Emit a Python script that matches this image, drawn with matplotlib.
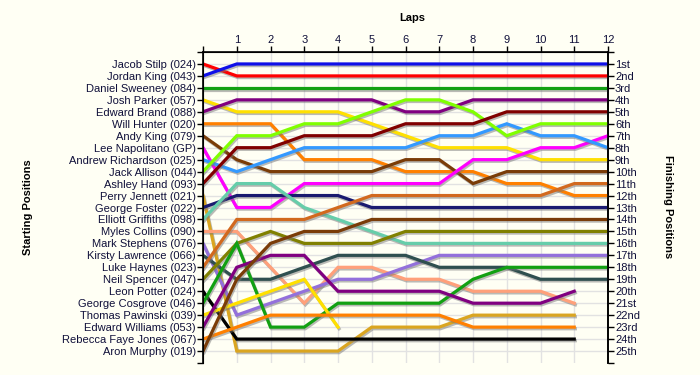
import numpy as np
import matplotlib.pyplot as plt
import matplotlib.patheffects as pe

plt.rcParams['font.family'] = ['Liberation Sans', 'DejaVu Sans']

drivers = ['Jacob Stilp (024)', 'Jordan King (043)', 'Daniel Sweeney (084)',
           'Josh Parker (057)', 'Edward Brand (088)', 'Will Hunter (020)',
           'Andy King (079)', 'Lee Napolitano (GP)', 'Andrew Richardson (025)',
           'Jack Allison (044)', 'Ashley Hand (093)', 'Perry Jennett (021)',
           'George Foster (022)', 'Elliott Griffiths (098)', 'Myles Collins (090)',
           'Mark Stephens (076)', 'Kirsty Lawrence (066)', 'Luke Haynes (023)',
           'Neil Spencer (047)', 'Leon Potter (024)', 'George Cosgrove (046)',
           'Thomas Pawinski (039)', 'Edward Williams (053)',
           'Rebecca Faye Jones (067)', 'Aron Murphy (019)']

colors = ['#ff0000', '#1010e8', '#12a012', '#ffe000', '#800080', '#ff8000',
          '#7a3c08', '#ff00ff', '#3399ff', '#80ff00', '#800000', '#daa520',
          '#1a1a70', '#66cdaa', '#ffa07a', '#9370db', '#2f4f4f', '#d2691e',
          '#808000', '#000000', '#12a012', '#ffe000', '#800080', '#ff8000',
          '#7a3c08']

# position at lap 0, 1, 2, ... (shorter lists = lapped / retired)
positions = [
    [1, 2, 2, 2, 2, 2, 2, 2, 2, 2, 2, 2, 2],
    [2, 1, 1, 1, 1, 1, 1, 1, 1, 1, 1, 1, 1],
    [3, 3, 3, 3, 3, 3, 3, 3, 3, 3, 3, 3, 3],
    [4, 5, 5, 5, 5, 6, 7, 8, 8, 8, 9, 9, 9],
    [5, 4, 4, 4, 4, 4, 5, 5, 4, 4, 4, 4, 4],
    [6, 6, 6, 9, 9, 9, 10, 10, 10, 11, 11, 12, 12],
    [7, 9, 10, 10, 10, 10, 9, 9, 11, 10, 10, 10, 10],
    [8, 13, 13, 11, 11, 11, 11, 11, 9, 9, 8, 8, 7],
    [9, 10, 9, 8, 8, 8, 8, 7, 7, 6, 7, 7, 8],
    [10, 7, 7, 6, 6, 5, 4, 4, 5, 7, 6, 6, 6],
    [11, 8, 8, 7, 7, 7, 6, 6, 6, 5, 5, 5, 5],
    [12, 25, 25, 25, 25, 23, 23, 23, 22, 22, 22, 22],
    [13, 12, 12, 12, 12, 13, 13, 13, 13, 13, 13, 13, 13],
    [14, 11, 11, 13, 14, 15, 16, 16, 16, 16, 16, 16, 16],
    [15, 15, 18, 21, 18, 18, 19, 19, 20, 20, 20, 21],
    [16, 22, 21, 20, 19, 19, 18, 17, 17, 17, 17, 17, 17],
    [17, 19, 19, 18, 17, 17, 17, 18, 18, 18, 19, 19, 19],
    [18, 14, 14, 14, 13, 12, 12, 12, 12, 12, 12, 11, 11],
    [19, 16, 15, 16, 16, 16, 15, 15, 15, 15, 15, 15, 15],
    [20, 24, 24, 24, 24, 24, 24, 24, 24, 24, 24, 24],
    [21, 16, 23, 23, 21, 21, 21, 21, 19, 18, 18, 18, 18],
    [22, 21, 20, 19, 23],
    [23, 18, 17, 17, 20, 20, 20, 20, 21, 21, 21, 20],
    [24, 23, 22, 22, 22, 22, 22, 22, 23, 23, 23, 23],
    [25, 19, 16, 15, 15, 14, 14, 14, 14, 14, 14, 14, 14],
]

finish_labels = ['1st', '2nd', '3rd'] + ['%dth' % i for i in range(4, 21)] + \
                ['21st', '22nd', '23rd', '24th', '25th']

bg = '#fffff4'
txt = '#10103a'
fs = 8

fig = plt.figure(figsize=(7, 3.75), dpi=100, facecolor=bg)
ax = fig.add_axes([203 / 700, 12 / 375, 405 / 700, 311 / 375])
ax.set_facecolor(bg)
ax.set_xlim(0, 12)
ax.set_ylim(26, 0)

for p in range(1, 26):
    ax.axhline(p, color='#e2e2e2', lw=1, zorder=0)
for k in range(1, 12):
    ax.axvline(k, color='#e2e2e2', lw=1, zorder=0)

shadow = [pe.SimpleLineShadow(offset=(0.8, -1.2), shadow_color='#777777', alpha=0.5),
          pe.Normal()]
for pos, c in zip(positions, colors):
    laps = np.arange(len(pos))
    ax.plot(laps, pos, color=c, lw=2.3, solid_joinstyle='miter',
            path_effects=shadow, zorder=3)

ax.xaxis.tick_top()
ax.set_xticks(range(13))
ax.set_xticklabels([''] + [str(i) for i in range(1, 13)], color=txt, fontsize=fs)
ax.tick_params(axis='x', length=4, pad=1, width=1)

ax.set_yticks(range(27))
ax.set_yticklabels([''] + drivers + [''], color=txt, fontsize=fs)
ax.tick_params(axis='y', length=4, pad=1, width=1)

for s in ['left', 'right', 'top']:
    ax.spines[s].set_linewidth(1.2)
ax.spines['bottom'].set_visible(False)

ax2 = ax.twinx()
ax2.set_ylim(26, 0)
ax2.set_yticks(range(27))
ax2.set_yticklabels([''] + finish_labels + [''], color=txt, fontsize=fs)
ax2.tick_params(axis='y', length=4, pad=1, width=1)
ax2.spines['bottom'].set_visible(False)
ax2.spines['right'].set_linewidth(1.2)

fig.text(412 / 700, 1 - 18 / 375, 'Laps', ha='center', va='center',
         fontsize=fs, fontweight='bold')
fig.text(28 / 700, 1 - 207 / 375, 'Starting Positions', ha='center', va='center',
         rotation=90, fontsize=fs, fontweight='bold')
fig.text(668 / 700, 1 - 207 / 375, 'Finishing Positions', ha='center', va='center',
         rotation=-90, fontsize=fs, fontweight='bold')

fig.savefig('out.png', dpi=100, facecolor=bg)
